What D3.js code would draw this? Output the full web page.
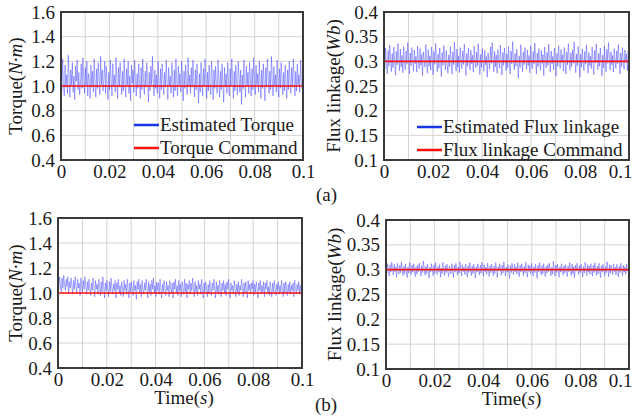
<!DOCTYPE html>
<html lang="en">
<head>
<meta charset="UTF-8">
<title>Torque and flux linkage</title>
<script src="https://d3js.org/d3.v7.min.js"></script>
<style>
    body { margin: 0; background: #fff; }
    svg { display: block; }
    svg text { font-family: "Liberation Serif", "Times New Roman", serif; }
</style>
</head>
<body>
<svg width="634" height="419"></svg>
<script>
const torqueA = [
1.14,0.96,1.22,1.03,0.92,1.17,0.99,1.09,0.94,1.25,1.06,0.91,1.13,1.01,1.19,0.95,1.08,0.89,1.16,1.04,
1.21,0.97,1.11,0.93,1.02,1.18,0.98,1.23,1.07,0.94,1.15,1.00,1.20,0.92,1.10,1.05,0.90,1.17,0.99,1.12,
0.95,1.22,1.04,0.91,1.14,0.98,1.19,1.08,0.93,1.24,1.01,1.13,0.96,1.06,1.20,0.94,1.16,1.02,0.89,1.11,
0.97,1.21,1.05,0.92,1.18,1.00,1.09,0.95,1.23,1.03,0.90,1.15,0.99,1.19,1.07,0.93,1.12,0.96,1.22,1.04,
0.91,1.14,1.01,1.20,0.94,1.08,0.88,1.17,1.02,1.13,0.95,1.21,1.06,0.92,1.10,0.98,1.18,1.03,0.90,1.15,
0.97,1.22,1.05,0.93,1.12,0.99,1.19,1.07,0.87,1.11,0.96,1.16,1.01,1.24,1.04,0.92,1.13,0.98,1.09,0.94,
1.20,1.02,0.90,1.14,0.97,1.18,1.06,0.93,1.11,0.99,1.21,1.03,0.89,1.15,1.00,1.08,0.94,1.19,1.05,0.91,
1.13,0.96,1.22,1.04,0.92,1.16,1.01,1.10,0.95,1.20,1.07,0.88,1.12,0.98,1.17,1.03,0.93,1.23,1.00,1.09,
0.94,1.15,0.99,1.21,1.05,0.91,1.13,0.97,1.18,1.02,0.86,1.10,0.95,1.19,1.06,0.92,1.14,1.00,1.22,1.04,
0.90,1.11,0.96,1.17,1.03,0.93,1.20,1.07,0.89,1.13,0.98,1.16,1.01,0.94,1.21,1.05,0.91,1.12,0.97,1.18,
1.02,0.87,1.15,0.99,1.10,0.94,1.19,1.04,0.92,1.14,1.00,1.22,1.06,0.90,1.12,0.96,1.17,1.03,0.93,1.20,
1.08,0.95,1.13,0.85,1.09,0.98,1.21,1.02,0.91,1.16,1.00,1.11,0.94,1.19,1.05,0.92,1.14,0.97,1.23,1.06,
0.93,1.17,1.01,1.10,0.95,1.20,1.04,0.90,1.13,0.98,1.18,1.03,0.88,1.15,0.99,1.22,1.07,0.94,1.12,0.97,
1.24,1.05,0.92,1.16,1.00,1.09,0.95,1.21,1.03,0.91,1.14,0.98,1.19,1.06,0.93,1.11,0.96,1.17,1.02,0.90,
1.13,0.97,1.20,1.04,0.94,1.15,0.99,1.22,1.07,0.92,1.12,0.96,1.18,1.01,1.09,0.95,1.21,1.03,0.98,1.08
];
const fluxA = [
0.318,0.284,0.327,0.296,0.275,0.322,0.290,0.333,0.305,0.279,0.316,0.287,0.329,0.300,0.272,0.320,0.293,0.336,0.308,0.281,
0.325,0.289,0.312,0.277,0.330,0.298,0.283,0.321,0.294,0.338,0.306,0.274,0.317,0.291,0.328,0.302,0.280,0.323,0.295,0.310,
0.278,0.331,0.299,0.285,0.326,0.292,0.314,0.271,0.319,0.303,0.288,0.334,0.297,0.276,0.324,0.290,0.311,0.282,0.329,0.301,
0.273,0.320,0.294,0.337,0.307,0.279,0.315,0.286,0.327,0.300,0.269,0.318,0.292,0.332,0.304,0.283,0.322,0.296,0.276,0.313,
0.289,0.330,0.301,0.274,0.319,0.293,0.339,0.306,0.280,0.325,0.288,0.311,0.277,0.328,0.298,0.285,0.321,0.294,0.335,0.303,
0.271,0.316,0.290,0.327,0.299,0.282,0.323,0.295,0.312,0.278,0.331,0.302,0.287,0.319,0.291,0.336,0.305,0.273,0.314,0.288,
0.326,0.297,0.280,0.322,0.293,0.310,0.268,0.317,0.300,0.284,0.329,0.296,0.338,0.308,0.279,0.320,0.289,0.313,0.276,0.324,
0.301,0.286,0.333,0.298,0.272,0.318,0.292,0.327,0.304,0.281,0.315,0.287,0.330,0.299,0.274,0.321,0.295,0.340,0.307,0.283,
0.316,0.290,0.325,0.297,0.266,0.311,0.288,0.334,0.302,0.279,0.319,0.293,0.328,0.305,0.284,0.323,0.291,0.312,0.277,0.331,
0.299,0.285,0.320,0.294,0.337,0.306,0.275,0.317,0.289,0.326,0.300,0.282,0.322,0.296,0.314,0.271,0.329,0.303,0.287,0.318,
0.292,0.335,0.304,0.278,0.321,0.295,0.310,0.283,0.327,0.301,0.270,0.316,0.290,0.332,0.306,0.286,0.324,0.297,0.313,0.280,
0.328,0.300,0.274,0.319,0.293,0.336,0.305,0.282,0.317,0.289,0.323,0.296,0.339,0.308,0.277,0.315,0.291,0.330,0.302,0.268,
0.314,0.288,0.325,0.298,0.281,0.320,0.294,0.333,0.306,0.276,0.318,0.291,0.311,0.285,0.329,0.303,0.273,0.322,0.297,0.335,
0.307,0.283,0.316,0.290,0.327,0.299,0.270,0.313,0.287,0.331,0.304,0.279,0.324,0.296,0.338,0.309,0.282,0.319,0.293,0.312,
0.278,0.326,0.300,0.286,0.321,0.295,0.334,0.305,0.274,0.317,0.289,0.328,0.302,0.284,0.323,0.297,0.315,0.281,0.320,0.299
];
const torqueB = [
1.10,1.03,1.13,1.06,1.01,1.12,1.04,1.14,1.07,1.02,1.11,1.05,1.13,1.00,1.09,1.04,1.12,1.06,0.99,1.10,
1.03,1.13,1.05,1.00,1.11,1.04,1.08,0.98,1.12,1.05,1.01,1.10,1.03,1.13,1.06,0.99,1.09,1.02,1.11,1.04,
0.98,1.08,1.02,1.12,1.05,0.97,1.10,1.03,1.07,0.99,1.11,1.04,0.98,1.09,1.01,1.13,1.05,0.96,1.08,1.02,
1.10,1.03,0.97,1.09,1.01,1.12,1.04,0.99,1.07,1.02,1.10,0.96,1.08,1.03,1.11,1.00,1.06,0.98,1.09,1.04,
0.97,1.10,1.02,1.07,0.99,1.11,1.03,0.96,1.08,1.01,1.09,1.04,0.98,1.10,1.02,1.06,0.95,1.09,1.03,1.11,
1.00,1.07,0.97,1.10,1.03,0.99,1.08,1.02,1.11,1.04,0.96,1.09,1.01,1.07,0.98,1.10,1.03,1.12,1.00,1.06,
0.97,1.09,1.02,1.08,0.99,1.11,1.04,0.96,1.07,1.01,1.10,1.03,0.98,1.09,1.02,1.06,0.97,1.10,1.04,1.00,
1.08,0.96,1.09,1.03,1.11,1.00,1.06,0.98,1.10,1.02,1.07,0.97,1.09,1.04,0.99,1.11,1.01,1.08,0.96,1.07,
1.03,1.10,0.99,1.08,1.02,1.12,1.04,0.97,1.09,1.01,1.06,0.98,1.10,1.03,1.07,0.99,1.11,1.02,0.96,1.08,
1.01,1.09,1.04,0.97,1.07,1.00,1.10,1.03,0.98,1.08,1.02,1.11,1.04,0.96,1.09,1.01,1.06,0.99,1.10,1.03,
0.97,1.08,1.02,1.10,1.00,1.07,0.98,1.09,1.03,1.11,1.01,0.96,1.08,1.02,1.06,0.99,1.10,1.04,0.97,1.07,
1.01,1.09,0.98,1.06,1.02,1.11,1.04,0.97,1.08,1.00,1.09,1.03,0.96,1.10,1.02,1.07,0.99,1.08,1.03,1.10,
0.98,1.07,1.01,1.09,1.03,0.96,1.08,1.02,1.10,0.99,1.06,1.01,1.09,0.97,1.08,1.03,1.10,1.00,1.05,0.98,
1.09,1.02,0.97,1.08,1.01,1.10,1.04,0.98,1.07,1.02,1.09,0.99,1.06,1.01,1.10,1.03,0.97,1.08,1.00,1.09,
1.03,0.98,1.07,1.01,1.09,0.99,1.06,1.02,1.08,0.97,1.10,1.03,1.00,1.07,1.02,1.09,0.99,1.06,1.01,1.04
];
const fluxB = [
0.308,0.293,0.312,0.297,0.287,0.310,0.295,0.315,0.302,0.289,0.311,0.296,0.306,0.285,0.313,0.299,0.291,0.309,0.294,0.316,
0.301,0.288,0.307,0.292,0.311,0.298,0.284,0.305,0.293,0.314,0.300,0.290,0.309,0.295,0.312,0.297,0.286,0.306,0.291,0.310,
0.296,0.313,0.299,0.287,0.308,0.294,0.317,0.303,0.289,0.307,0.292,0.311,0.298,0.283,0.305,0.295,0.312,0.300,0.288,0.309,
0.293,0.314,0.302,0.290,0.306,0.296,0.310,0.285,0.303,0.292,0.315,0.299,0.288,0.308,0.294,0.311,0.297,0.286,0.307,0.301,
0.291,0.312,0.298,0.284,0.309,0.295,0.313,0.300,0.289,0.306,0.293,0.316,0.302,0.287,0.310,0.296,0.305,0.290,0.311,0.297,
0.285,0.308,0.294,0.314,0.301,0.288,0.307,0.292,0.311,0.299,0.283,0.306,0.295,0.312,0.298,0.289,0.309,0.293,0.315,0.300,
0.287,0.310,0.296,0.305,0.291,0.313,0.299,0.286,0.308,0.294,0.311,0.300,0.288,0.307,0.292,0.314,0.302,0.284,0.306,0.297,
0.312,0.298,0.289,0.309,0.293,0.316,0.301,0.287,0.305,0.295,0.310,0.297,0.282,0.308,0.294,0.313,0.300,0.290,0.311,0.296,
0.306,0.291,0.314,0.299,0.286,0.309,0.295,0.312,0.302,0.288,0.307,0.293,0.315,0.298,0.285,0.310,0.296,0.308,0.292,0.313,
0.300,0.287,0.306,0.294,0.311,0.297,0.283,0.309,0.295,0.314,0.301,0.289,0.308,0.292,0.312,0.298,0.286,0.307,0.293,0.310,
0.296,0.313,0.299,0.288,0.305,0.291,0.317,0.302,0.287,0.309,0.294,0.311,0.300,0.285,0.306,0.295,0.312,0.297,0.289,0.308,
0.293,0.310,0.301,0.286,0.307,0.296,0.314,0.299,0.288,0.311,0.292,0.306,0.284,0.309,0.297,0.313,0.300,0.290,0.308,0.294,
0.311,0.298,0.285,0.306,0.293,0.315,0.302,0.288,0.310,0.295,0.307,0.291,0.312,0.299,0.287,0.309,0.294,0.314,0.300,0.289,
0.307,0.292,0.313,0.297,0.284,0.308,0.295,0.311,0.301,0.288,0.306,0.294,0.316,0.299,0.286,0.310,0.293,0.309,0.297,0.290,
0.312,0.296,0.305,0.289,0.311,0.298,0.285,0.307,0.294,0.313,0.300,0.288,0.309,0.295,0.306,0.291,0.312,0.297,0.303,0.299
];

const torqueCommand = 1.0;
const fluxCommand = 0.3;

const timeTicks = [0, 0.02, 0.04, 0.06, 0.08, 0.1];
const timeTickLabels = ["0", "0.02", "0.04", "0.06", "0.08", "0.1"];
const torqueTicks = [0.4, 0.6, 0.8, 1.0, 1.2, 1.4, 1.6];
const torqueTickLabels = ["0.4", "0.6", "0.8", "1.0", "1.2", "1.4", "1.6"];
const fluxTicks = [0.1, 0.15, 0.2, 0.25, 0.3, 0.35, 0.4];
const fluxTickLabels = ["0.1", "0.15", "0.2", "0.25", "0.3", "0.35", "0.4"];

const svg = d3.select("svg");
const W = +svg.attr("width");
const FS = 19;
const SERIF = "'Liberation Serif', 'Times New Roman', serif";

const panels = [
    { box: [61, 12, 303, 160], values: torqueA, cmd: torqueCommand, yTicks: torqueTicks, yLabels: torqueTickLabels,
      yTitle: ["Torque(", "N\u00b7m", ")"], titleX: 22, legend: ["Estimated Torque", "Torque Command"], legendX: 134, legendY: 125, timeLabel: false },
    { box: [384, 12, 629, 160], values: fluxA, cmd: fluxCommand, yTicks: fluxTicks, yLabels: fluxTickLabels,
      yTitle: ["Flux linkage(", "Wb", ")"], titleX: 340, legend: ["Estimated Flux linkage", "Flux linkage Command"], legendX: 417, legendY: 127, timeLabel: false },
    { box: [58, 218, 302, 368], values: torqueB, cmd: torqueCommand, yTicks: torqueTicks, yLabels: torqueTickLabels,
      yTitle: ["Torque(", "N\u00b7m", ")"], titleX: 22, legend: null, timeLabel: true },
    { box: [386, 220, 629, 369], values: fluxB, cmd: fluxCommand, yTicks: fluxTicks, yLabels: fluxTickLabels,
      yTitle: ["Flux linkage(", "Wb", ")"], titleX: 341, legend: null, timeLabel: true }
];

panels.forEach(p => {
    const [x0, y0, x1, y1] = p.box;
    const x = d3.scaleLinear().domain([0, 0.1]).range([x0, x1]);
    const y = d3.scaleLinear().domain([p.yTicks[0], p.yTicks[p.yTicks.length - 1]]).range([y1, y0]);
    const g = svg.append("g");

    // grid
    g.append("g").selectAll("line").data(d3.range(0, 11).map(i => i / 100))
        .join("line")
        .attr("x1", d => x(d)).attr("x2", d => x(d))
        .attr("y1", y0).attr("y2", y1)
        .attr("stroke", "#d4d4d4").attr("stroke-width", 1);
    g.append("g").selectAll("line").data(p.yTicks)
        .join("line")
        .attr("x1", x0).attr("x2", x1)
        .attr("y1", d => y(d)).attr("y2", d => y(d))
        .attr("stroke", "#d4d4d4").attr("stroke-width", 1);

    // estimated signal
    const n = p.values.length;
    const line = d3.line()
        .x((d, i) => x(i * 0.1 / (n - 1)))
        .y(d => y(d));
    g.append("path")
        .datum(p.values)
        .attr("d", line)
        .attr("fill", "none")
        .attr("stroke", "#2a2aff")
        .attr("stroke-opacity", 0.5)
        .attr("stroke-width", 0.8);

    // command
    g.append("line")
        .attr("x1", x(0)).attr("x2", x(0.1))
        .attr("y1", y(p.cmd)).attr("y2", y(p.cmd))
        .attr("stroke", "#ff1010").attr("stroke-width", 1.6);

    // frame
    g.append("rect")
        .attr("x", x0).attr("y", y0)
        .attr("width", x1 - x0).attr("height", y1 - y0)
        .attr("fill", "none").attr("stroke", "#3a3a3a").attr("stroke-width", 2);

    // axes
    const xAxis = d3.axisBottom(x).tickValues(timeTicks)
        .tickFormat((d, i) => timeTickLabels[i]).tickSize(0).tickPadding(5);
    const xa = g.append("g").attr("transform", `translate(0,${y1})`).call(xAxis)
        .attr("font-family", null).style("font-family", SERIF);
    xa.select(".domain").remove();
    xa.selectAll("text").style("font-family", SERIF).attr("font-size", FS).attr("fill", "#1a1a1a")
        .attr("dy", "0.71em");
    // keep the last label inside the page, as in the original
    xa.selectAll("text").each(function (d) {
        const half = this.getComputedTextLength() / 2;
        const over = x(d) + half - (W - 2);
        if (over > 0) d3.select(this).attr("x", -over);
    });

    const yAxis = d3.axisLeft(y).tickValues(p.yTicks)
        .tickFormat((d, i) => p.yLabels[i]).tickSize(0).tickPadding(6);
    const ya = g.append("g").attr("transform", `translate(${x0},0)`).call(yAxis)
        .attr("font-family", null).style("font-family", SERIF);
    ya.select(".domain").remove();
    ya.selectAll("text").style("font-family", SERIF).attr("font-size", FS).attr("fill", "#1a1a1a");

    // y title
    const t = g.append("text")
        .attr("transform", `translate(${p.titleX},${(y0 + y1) / 2}) rotate(-90)`)
        .attr("text-anchor", "middle")
        .attr("font-size", FS).attr("fill", "#1a1a1a");
    t.append("tspan").text(p.yTitle[0]);
    t.append("tspan").attr("font-style", "italic").text(p.yTitle[1]);
    t.append("tspan").text(p.yTitle[2]);

    // legend
    if (p.legend) {
        const lx = p.legendX, ly = p.legendY;
        [["#1535e6", p.legend[0]], ["#ff1010", p.legend[1]]].forEach(([c, label], i) => {
            const yy = ly + i * 23;
            g.append("line").attr("x1", lx).attr("x2", lx + 25)
                .attr("y1", yy).attr("y2", yy).attr("stroke", c).attr("stroke-width", 2.5);
            g.append("text").attr("x", lx + 26).attr("y", yy + 6)
                .attr("font-size", FS).attr("fill", "#1a1a1a").text(label);
        });
    }

    if (p.timeLabel) {
        const tl = g.append("text")
            .attr("x", (x0 + x1) / 2 + 4).attr("y", y1 + 36)
            .attr("text-anchor", "middle").attr("font-size", FS).attr("fill", "#1a1a1a");
        tl.append("tspan").text("Time(");
        tl.append("tspan").attr("font-style", "italic").text("s");
        tl.append("tspan").text(")");
    }
});

svg.append("text").attr("x", 316).attr("y", 201).attr("font-size", FS).attr("fill", "#1a1a1a").text("(a)");
svg.append("text").attr("x", 315).attr("y", 411).attr("font-size", FS).attr("fill", "#1a1a1a").text("(b)");
</script>
</body>
</html>
